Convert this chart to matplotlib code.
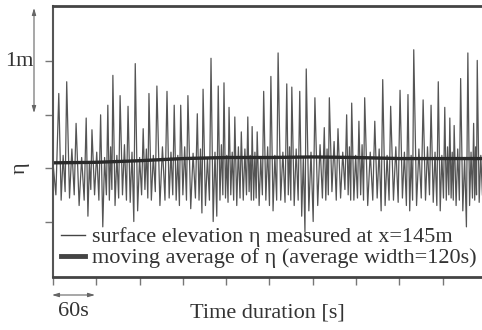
import matplotlib.pyplot as plt
from matplotlib.lines import Line2D
import numpy as np

# crests of the measured surface elevation: time [s] and height [m]
crest_t = [8, 19, 32, 46, 54, 66, 76, 83, 93, 104,
           114, 125, 133, 144, 158, 168, 177, 187, 200, 208,
           219, 229, 237, 244, 252, 261, 270, 276, 283, 292,
           302, 312, 324, 331, 342, 351, 363, 376, 383, 395,
           407, 414, 424, 432, 446, 457, 468, 481, 492, 500,
           513, 524, 534, 543, 550, 556, 565, 575, 583, 588]
crest_eta = [0.70, 0.81, 0.42, 0.47, 0.36, 0.50, 0.59, 0.87, 0.68, 0.58,
             0.98, 0.37, 0.70, 0.77, 0.72, 0.59, 0.59, 0.68, 0.51, 0.74,
             1.03, 0.77, 0.80, 0.57, 0.48, 0.34, 0.48, 0.39, 0.34, 0.72,
             0.86, 1.08, 0.79, 0.76, 0.72, 0.93, 0.66, 0.38, 0.66, 0.37,
             0.50, 0.61, 0.44, 0.66, 0.44, 0.83, 0.58, 0.73, 0.69, 1.11,
             0.64, 0.59, 0.81, 0.57, 0.47, 0.40, 0.84, 1.08, 0.42, 1.01]
# after each crest: first trough, small bump, second trough [m]
trough1_eta = [-0.30, -0.28, -0.35, -0.45, -0.25, -0.55, -0.30, -0.35, -0.25, -0.32,
               -0.40, -0.20, -0.30, -0.35, -0.28, -0.30, -0.25, -0.38, -0.30, -0.35,
               -0.50, -0.30, -0.28, -0.25, -0.35, -0.30, -0.22, -0.30, -0.35, -0.30,
               -0.40, -0.30, -0.25, -0.35, -0.45, -0.40, -0.35, -0.30, -0.22, -0.28,
               -0.25, -0.30, -0.25, -0.35, -0.28, -0.35, -0.30, -0.28, -0.40, -0.35,
               -0.30, -0.32, -0.40, -0.30, -0.28, -0.35, -0.40, -0.35, -0.30, -0.32]
bump_eta = [0.12, 0.18, 0.10, 0.05, 0.15, 0.10, 0.20, 0.12, 0.22, 0.15,
            0.10, 0.18, 0.12, 0.20, 0.15, 0.12, 0.20, 0.14, 0.18, 0.10,
            0.15, 0.22, 0.12, 0.15, 0.20, 0.18, 0.12, 0.15, 0.10, 0.20,
            0.12, 0.15, 0.20, 0.18, 0.10, 0.15, 0.22, 0.18, 0.25, 0.15,
            0.20, 0.12, 0.22, 0.15, 0.18, 0.12, 0.20, 0.15, 0.12, 0.18,
            0.20, 0.15, 0.12, 0.20, 0.15, 0.18, 0.10, 0.15, 0.20, 0.12]
trough2_eta = [-0.22, -0.25, -0.30, -0.20, -0.30, -0.25, -0.20, -0.28, -0.30, -0.50,
               -0.25, -0.28, -0.22, -0.30, -0.25, -0.35, -0.30, -0.28, -0.42, -0.30,
               -0.45, -0.25, -0.32, -0.30, -0.28, -0.25, -0.30, -0.28, -0.25, -0.35,
               -0.30, -0.32, -0.30, -0.30, -0.60, -0.50, -0.28, -0.25, -0.30, -0.20,
               -0.30, -0.28, -0.30, -0.30, -0.40, -0.30, -0.32, -0.35, -0.30, -0.28,
               -0.25, -0.35, -0.28, -0.25, -0.30, -0.30, -0.55, -0.28, -0.25, -0.25]

# moving average (120 s window)
ma_t = [0, 60, 120, 180, 240, 300, 360, 420, 480, 540, 600]
ma_eta = [0.05, 0.055, 0.07, 0.09, 0.10, 0.10, 0.105, 0.10, 0.09, 0.09, 0.09]

labels = ['surface elevation η measured at x=145m',
          'moving average of η (average width=120s)']

# assemble record: crest, trough, bump, trough, next crest ...
t = [0.0, 4.0]
eta = [0.05, -0.25]
ends = crest_t[1:] + [597]
for tc, hc, a, b, c, tn in zip(crest_t, crest_eta, trough1_eta, bump_eta, trough2_eta, ends):
    gap = tn - tc
    t += [tc, tc + 0.3 * gap, tc + 0.55 * gap, tc + 0.8 * gap]
    eta += [hc, a, b, c]

plt.rcParams['font.family'] = ['Liberation Serif', 'DejaVu Serif']
ink = '#333333'
W, H = 482, 330

fig = plt.figure(figsize=(4.82, 3.30), dpi=100)
ax = fig.add_axes([53 / W, 53 / H, 1 - 53 / W, 271 / H])
ax.plot(t, eta, color='#555555', lw=0.9)
ax.plot(ma_t, ma_eta, color='#2a2a2a', lw=2.4)

ax.set_xlim(0, 594.6)
ax.set_ylim(-1.02, 1.52)
ax.set_xticks(np.arange(0, 600, 60))
ax.set_yticks([-0.5, 0, 0.5, 1.0])
ax.set_xticklabels([])
ax.set_yticklabels([])
ax.tick_params(direction='out', length=6, width=1, color='#777777')
ax.spines['right'].set_visible(False)
for s in ['top', 'bottom']:
    ax.spines[s].set_linewidth(2)
    ax.spines[s].set_color('#444444')
ax.spines['left'].set_linewidth(1.5)
ax.spines['left'].set_color('#555555')

# legend, tightly spaced as in the original
for row, (lab, lw) in enumerate(zip(labels, [1.0, 3.5])):
    yc = (H - 235 - 21 * row) / H
    fig.add_artist(Line2D([61 / W, 85 / W], [yc, yc], color='#444444', lw=lw))
    fig.text(92 / W, (H - 242 - 21 * row) / H, lab, ha='left', va='baseline',
             fontsize=16, color=ink)

arrow = dict(arrowstyle='<|-|>,head_length=0.4,head_width=0.12', color='#666666', lw=0.8,
             shrinkA=0, shrinkB=0)
ax.annotate('', xy=(34 / W, (H - 8) / H), xytext=(34 / W, (H - 113) / H),
            xycoords='figure fraction', textcoords='figure fraction', arrowprops=arrow)
ax.annotate('', xy=(52 / W, (H - 295) / H), xytext=(95 / W, (H - 295) / H),
            xycoords='figure fraction', textcoords='figure fraction', arrowprops=arrow)

fig.text(19 / W, (H - 62) / H, '1m', ha='center', va='center', fontsize=16, color=ink)
fig.text(20 / W, (H - 168) / H, 'η', ha='center', va='center', fontsize=16,
         rotation=90, color=ink)
fig.text(73 / W, (H - 312) / H, '60s', ha='center', va='center', fontsize=16, color=ink)
fig.text(267 / W, (H - 313) / H, 'Time duration [s]', ha='center', va='center',
         fontsize=16, color=ink)

fig.savefig('out.png', dpi=100)
